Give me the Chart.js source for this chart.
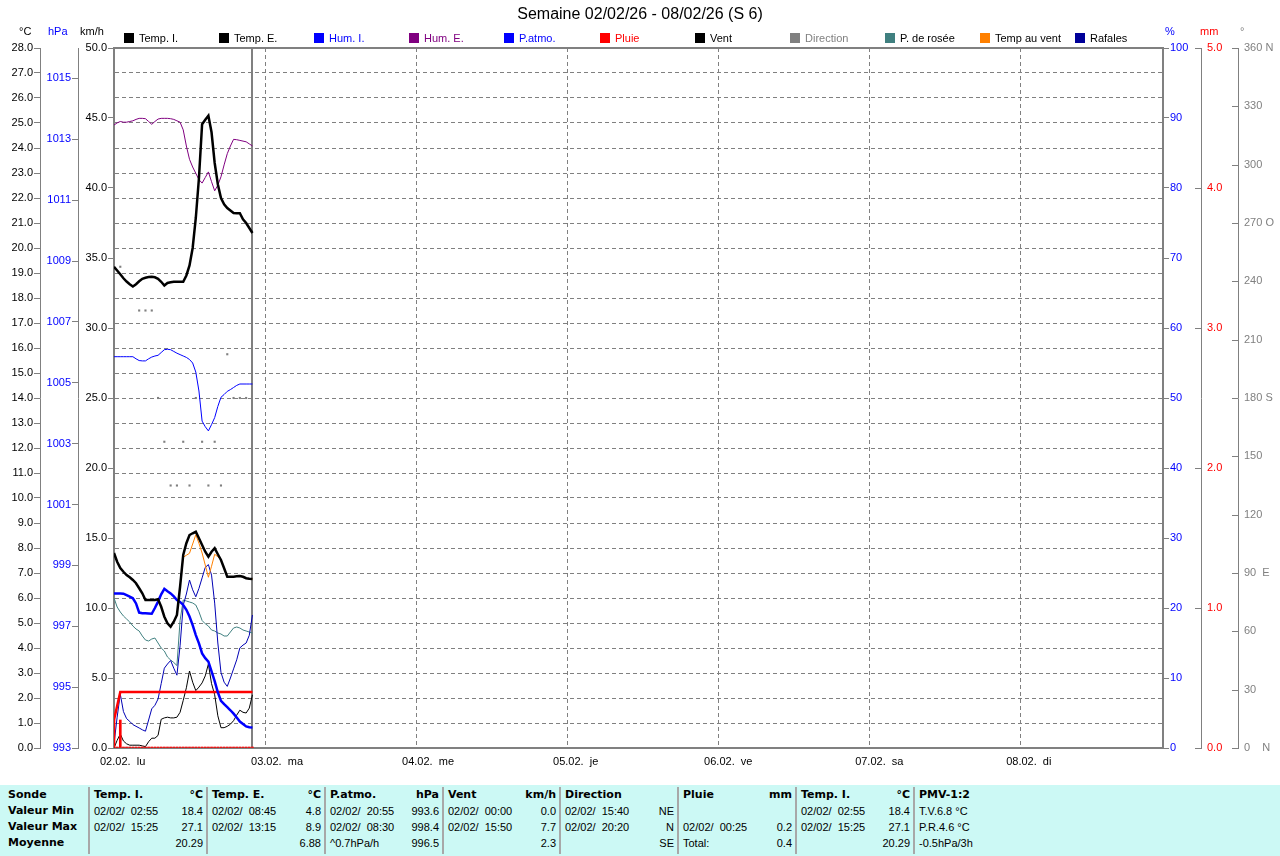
<!DOCTYPE html>
<html>
<head>
<meta charset="utf-8">
<script src="https://cdn.jsdelivr.net/npm/chart.js@4.4.1/dist/chart.umd.min.js"></script>
<style>
html,body{margin:0;padding:0;background:#fff;}
#wrap{position:relative;width:1280px;height:856px;overflow:hidden;background:#fff;}
#c{position:absolute;left:0;top:0;}
#tbl{position:absolute;left:0;top:785px;width:1280px;height:71px;background:#ccf9f5;font-family:"Liberation Sans",Arial,sans-serif;font-size:11px;color:#000;}
.sep{position:absolute;top:2px;width:2px;height:67px;background:#a8a8a8;}
.col{position:absolute;top:0;height:71px;}
.row{position:absolute;left:0;right:0;height:16px;line-height:16px;white-space:pre;}
.l{position:absolute;left:0;top:0;}
.r{position:absolute;right:0;top:0;}
.b{font-family:"DejaVu Sans",sans-serif;font-weight:bold;font-size:11px;}
</style>
</head>
<body>
<div id="wrap">
<canvas id="c" width="1280" height="787"></canvas>
<div id="tbl"></div>
</div>
<script>
// ---------------- DATA ----------------
const hours = [0,0.5,1,1.5,2,2.5,3,3.5,4,4.5,5,5.5,6,6.5,7,7.5,8,8.5,9,9.5,10,10.5,11,11.5,12,12.5,13,13.5,14,14.5,15,15.5,16,16.5,17,17.5,18,18.5,19,19.5,20,20.5,21,21.5,22];

const tempI = [19.25,19.1,18.95,18.79,18.66,18.55,18.46,18.55,18.67,18.77,18.81,18.84,18.85,18.83,18.77,18.65,18.5,18.6,18.63,18.65,18.65,18.65,18.65,18.9,19.3,20.0,21.2,22.8,24.95,25.13,25.29,24.63,23.4,22.55,22.0,21.75,21.6,21.5,21.4,21.39,21.39,21.15,21.0,20.8,20.6];
const tempE = [7.8,7.45,7.2,7.05,6.92,6.83,6.72,6.59,6.39,6.19,5.92,5.92,5.92,5.92,5.95,5.65,5.25,4.99,4.85,5.05,5.32,6.45,7.72,8.19,8.52,8.59,8.65,8.39,8.12,7.85,7.65,7.85,7.99,7.75,7.52,7.19,6.85,6.85,6.85,6.87,6.88,6.85,6.79,6.77,6.76];
const windChill = [7.8,7.45,7.2,7.05,6.92,6.83,6.72,6.59,6.39,6.19,5.92,5.92,5.92,5.92,5.95,5.65,5.25,4.99,4.85,5.05,5.32,6.45,7.63,7.71,7.79,8.16,8.53,8.19,7.8,7.32,6.83,7.27,7.75,7.65,7.52,7.19,6.85,6.85,6.85,6.87,6.88,6.85,6.79,6.77,6.76];
const dewPoint = [6.0,5.64,5.44,5.28,5.16,5.04,4.88,4.76,4.68,4.48,4.32,4.28,4.36,4.4,4.2,4.0,3.88,3.64,3.52,3.42,3.3,5.1,5.92,5.88,5.84,5.8,5.72,5.45,5.1,4.97,4.88,4.72,4.68,4.6,4.56,4.48,4.48,4.64,4.8,4.84,4.8,4.72,4.68,4.64,4.6];
const humI = [55.9,55.9,55.9,55.9,55.9,55.9,55.9,55.6,55.35,55.3,55.3,55.6,55.85,56.0,56.1,56.5,56.9,56.96,56.9,56.65,56.4,56.2,56.0,55.8,55.5,55.0,53.7,51.0,46.7,45.9,45.3,46.2,47.2,48.8,50.1,50.5,50.95,51.2,51.5,51.8,52.0,52.0,52.0,52.0,52.0];
const humE = [89.0,89.3,89.5,89.4,89.4,89.5,89.6,89.8,89.95,89.95,89.9,89.5,89.1,89.5,89.85,89.95,89.95,89.95,89.9,89.8,89.6,89.4,88.3,86.0,84.1,83.0,82.1,81.2,80.7,81.5,82.3,80.9,79.6,80.4,81.6,83.3,84.9,86.0,86.95,86.9,86.8,86.7,86.6,86.3,86.0];
const pressure = [998.08,998.08,998.08,998.07,998.02,997.97,997.92,997.75,997.45,997.43,997.43,997.42,997.41,997.6,997.81,998.05,998.23,998.15,998.08,997.98,997.86,997.8,997.7,997.54,997.32,997.04,996.71,996.44,996.11,995.95,995.84,995.52,995.2,994.83,994.55,994.44,994.34,994.24,994.13,994.0,993.87,993.79,993.71,993.68,993.67];
const wind = [0,0.55,1.0,0.5,0.3,0.2,0.2,0.2,0.2,0.15,0.1,0.45,0.7,0.7,0.9,2.05,2.15,2.2,2.15,2.15,2.2,2.55,3.4,4.3,5.5,4.7,4.1,4.35,4.65,5.15,6.0,4.6,3.8,2.3,1.45,1.45,1.55,1.7,1.95,2.35,2.7,2.55,2.5,2.85,3.8];
const gusts = [0.3,2.2,3.85,2.6,2.1,1.9,1.67,1.55,1.43,1.3,1.2,2.0,2.8,3.05,3.5,4.6,5.7,6.0,6.25,5.7,5.2,7.3,10.2,11.0,12.0,11.3,10.8,11.4,12.15,12.9,13.1,12.35,10.35,7.5,5.4,4.7,4.4,5.0,5.65,6.3,7.15,7.35,7.5,8.05,9.5];
const rain = [0.2,0,0.2,0,0,0,0,0,0,0,0,0,0,0,0,0,0,0,0,0,0,0,0,0,0,0,0,0,0,0,0,0,0,0,0,0,0,0,0,0,0,0,0,0,0];
const rainTotal = [0.2,0.3,0.4,0.4,0.4,0.4,0.4,0.4,0.4,0.4,0.4,0.4,0.4,0.4,0.4,0.4,0.4,0.4,0.4,0.4,0.4,0.4,0.4,0.4,0.4,0.4,0.4,0.4,0.4,0.4,0.4,0.4,0.4,0.4,0.4,0.4,0.4,0.4,0.4,0.4,0.4,0.4,0.4,0.4,0.4];
const dirHours = [1,4,5,6,7,8,9,10,11,12,13,14,15,16,17,18,19,20,21];
const dirDeg = [247.5,225,225,225,180,157.5,135,135,157.5,135,180,157.5,135,157.5,135,202.5,180,180,180];

// ticks / labels
const dayTicks = [0,24,48,72,96,120,144];
const dayLabels = ["02.02.  lu","03.02.  ma","04.02.  me","05.02.  je","06.02.  ve","07.02.  sa","08.02.  di"];
const tempTicks = [0,1,2,3,4,5,6,7,8,9,10,11,12,13,14,15,16,17,18,19,20,21,22,23,24,25,26,27,28];
const hpaTicks = [993,995,997,999,1001,1003,1005,1007,1009,1011,1013,1015];
const windTicks = [0,5,10,15,20,25,30,35,40,45,50];
const humTicks = [0,10,20,30,40,50,60,70,80,90,100];
const rainTicks = [0,1,2,3,4,5];
const dirTicks = [0,30,60,90,120,150,180,210,240,270,300,330,360];
const dirNames = {0:"0    N",90:"90  E",180:"180 S",270:"270 O",360:"360 N"};

const legendLabels = ["Temp. I.","Temp. E.","Hum. I.","Hum. E.","P.atmo.","Pluie","Vent","Direction","P. de rosée","Temp au vent","Rafales"];
const legendBox = ["#000000","#000000","#0000ff","#800080","#0000ff","#ff0000","#000000","#808080","#408080","#ff8000","#000099"];
const legendText = ["#000000","#000000","#0000ff","#800080","#0000ff","#ff0000","#000000","#808080","#000000","#000000","#000000"];
const titleText = "Semaine 02/02/26 - 08/02/26 (S 6)";

// table
const tblRowNames = ["Sonde","Valeur Min","Valeur Max","Moyenne"];
const tblHead = ["Temp. I.","Temp. E.","P.atmo.","Vent","Direction","Pluie","Temp. I.","PMV-1:2"];
const tblUnit = ["°C","°C","hPa","km/h","","mm","°C",""];
const tblMinL = ["02/02/  02:55","02/02/  08:45","02/02/  20:55","02/02/  00:00","02/02/  15:40","","02/02/  02:55","T.V.6.8 °C"];
const tblMinR = ["18.4","4.8","993.6","0.0","NE","","18.4",""];
const tblMaxL = ["02/02/  15:25","02/02/  13:15","02/02/  08:30","02/02/  15:50","02/02/  20:20","02/02/  00:25","02/02/  15:25","P.R.4.6 °C"];
const tblMaxR = ["27.1","8.9","998.4","7.7","N","0.2","27.1",""];
const tblAvgL = ["","","^0.7hPa/h","","","Total:","","-0.5hPa/3h"];
const tblAvgR = ["20.29","6.88","996.5","2.3","SE","0.4","20.29",""];

// ---------------- CHART ----------------
const FONT = '"Liberation Sans", Arial, sans-serif';
const GRAY = '#808080';
const X_MAX = 166.7;
function pts(xs, ys){ return xs.map((x,i)=>({x:x, y:ys[i]})); }
function setTicks(vals){ return s => { s.ticks = vals.map(v=>({value:v})); }; }
function line(label, ys, color, width, axis){
  return {type:'line', label, data:pts(hours, ys), borderColor:color, backgroundColor:color,
    borderWidth:width, pointRadius:0, pointHoverRadius:0, tension:0, fill:false, yAxisID:axis, xAxisID:'x'};
}
const tf = {family:FONT, size:11};

const decor = {
  id:'decor',
  beforeDatasetsDraw(chart){
    const {ctx, chartArea:a, scales} = chart;
    ctx.save();
    ctx.strokeStyle = GRAY; ctx.lineWidth = 2;
    ctx.strokeRect(a.left, a.top, a.right-a.left, a.bottom-a.top);
    const xe = Math.round(scales.x.getPixelForValue(hours[hours.length-1]));
    ctx.beginPath(); ctx.moveTo(xe, a.top); ctx.lineTo(xe, a.bottom); ctx.stroke();
    ctx.restore();
  },
  afterDraw(chart){
    const {ctx, scales} = chart;
    ctx.save();
    ctx.strokeStyle = GRAY; ctx.lineWidth = 1;
    ['yR','yD'].forEach(id => {
      const s = scales[id];
      s.ticks.forEach(t => {
        const y = Math.round(s.getPixelForValue(t.value)) + 0.5;
        ctx.beginPath(); ctx.moveTo(s.left-6, y); ctx.lineTo(s.left, y); ctx.stroke();
      });
    });
    ctx.fillStyle = '#000'; ctx.font = '16px ' + FONT; ctx.textAlign = 'center'; ctx.textBaseline = 'middle';
    ctx.fillText(titleText, 640, 15);
    ctx.font = '11px ' + FONT; ctx.textAlign = 'left';
    const units = [['°C',19,'#000'],['hPa',48,'#0000ff'],['km/h',80,'#000'],['%',1165,'#0000ff'],['mm',1200,'#ff0000'],['°',1240,GRAY]];
    units.forEach(u => { ctx.fillStyle = u[2]; ctx.fillText(u[0], u[1], 32); });
    legendLabels.forEach((lab,i) => {
      const x = Math.round(124 + i*95.1);
      ctx.fillStyle = legendBox[i]; ctx.fillRect(x, 33, 10, 10);
      ctx.fillStyle = legendText[i]; ctx.fillText(lab, x+15, 38.5);
    });
    ctx.restore();
  }
};

new Chart(document.getElementById('c'), {
  type:'line',
  data:{ datasets:[
    line('Temp. E.', tempE, '#000000', 2.5, 'yT'),
    line('Temp. I.', tempI, '#000000', 2.5, 'yT'),
    line('P.atmo.', pressure, '#0000ff', 2.5, 'yP'),
    line('Pluie', rainTotal, '#ff0000', 2.5, 'yR'),
    {type:'bar', label:'Pluie h', data:pts(hours, rain), backgroundColor:'#ff0000', borderWidth:0,
     barThickness:2, minBarLength:1, yAxisID:'yR', xAxisID:'x'},
    line('Vent', wind, '#000000', 1, 'yW'),
    line('Temp au vent', windChill, '#ff8000', 1, 'yT'),
    line('Rafales', gusts, '#0000b4', 1, 'yW'),
    line('Hum. I.', humI, '#0000ff', 1, 'yH'),
    line('Hum. E.', humE, '#800080', 1, 'yH'),
    line('P. de rosée', dewPoint, '#408080', 1, 'yT'),
    {type:'line', label:'Direction', data:pts(dirHours, dirDeg), showLine:false, pointStyle:'rect',
     pointRadius:1.5, pointBorderWidth:0, pointBackgroundColor:GRAY, borderColor:GRAY, yAxisID:'yD', xAxisID:'x'}
  ]},
  options:{
    responsive:false, animation:false, devicePixelRatio:1, events:[],
    layout:{padding:{top:48, left:0, right:0, bottom:19}},
    plugins:{legend:{display:false}, tooltip:{enabled:false}, title:{display:false}},
    scales:{
      x:{type:'linear', position:'bottom', min:0, max:X_MAX, offset:false,
        afterBuildTicks:setTicks(dayTicks), afterFit:s=>{s.height=20;},
        grid:{offset:false, color:GRAY, lineWidth:1, drawTicks:false, drawOnChartArea:true, tickBorderDash:[]},
        border:{display:false, dash:[4,3]},
        ticks:{callback:(v,i)=>dayLabels[i], align:'start', labelOffset:-14, padding:7, maxRotation:0, minRotation:0, autoSkip:false, color:'#000', font:tf}},
      yT:{type:'linear', position:'left', weight:3, min:0, max:28,
        afterBuildTicks:setTicks(tempTicks), afterFit:s=>{s.width=40;},
        grid:{color:GRAY, lineWidth:1, drawOnChartArea:true, drawTicks:true, tickLength:6, tickColor:GRAY, tickBorderDash:[]},
        border:{display:true, color:GRAY, width:1, dash:[4,3]},
        ticks:{padding:1, color:'#000', font:tf, autoSkip:false, callback:v=>Number(v).toFixed(1)}},
      yP:{type:'linear', position:'left', weight:2, min:993, max:1016,
        afterBuildTicks:setTicks(hpaTicks), afterFit:s=>{s.width=38;},
        grid:{color:GRAY, drawOnChartArea:false, drawTicks:true, tickLength:6, tickColor:GRAY},
        border:{display:true, color:GRAY, width:1},
        ticks:{padding:1, color:'#0000ff', font:tf, autoSkip:false, callback:v=>String(v)}},
      yW:{type:'linear', position:'left', weight:1, min:0, max:50,
        afterBuildTicks:setTicks(windTicks), afterFit:s=>{s.width=36;},
        grid:{color:GRAY, drawOnChartArea:false, drawTicks:true, tickLength:6, tickColor:GRAY},
        border:{display:false},
        ticks:{padding:1, color:'#000', font:tf, autoSkip:false, callback:v=>Number(v).toFixed(1)}},
      yH:{type:'linear', position:'right', weight:1, min:0, max:100,
        afterBuildTicks:setTicks(humTicks), afterFit:s=>{s.width=38;},
        grid:{color:GRAY, drawOnChartArea:false, drawTicks:true, tickLength:6, tickColor:GRAY},
        border:{display:false},
        ticks:{padding:1, color:'#0000ff', font:tf, autoSkip:false, callback:v=>String(v)}},
      yR:{type:'linear', position:'right', weight:2, min:0, max:5,
        afterBuildTicks:setTicks(rainTicks), afterFit:s=>{s.width=37;},
        grid:{drawOnChartArea:false, drawTicks:false},
        border:{display:true, color:GRAY, width:1},
        ticks:{padding:6, color:'#ff0000', font:tf, autoSkip:false, callback:v=>Number(v).toFixed(1)}},
      yD:{type:'linear', position:'right', weight:3, min:0, max:360,
        afterBuildTicks:setTicks(dirTicks), afterFit:s=>{s.width=42;},
        grid:{drawOnChartArea:false, drawTicks:false},
        border:{display:true, color:GRAY, width:1},
        ticks:{padding:6, color:GRAY, font:tf, autoSkip:false, callback:v=>(dirNames[v]!==undefined?dirNames[v]:String(v))}}
    }
  },
  plugins:[decor]
});

// ---------------- TABLE ----------------
(function(){
  const tbl = document.getElementById('tbl');
  const seps = [89,207,325,443,560,678,796,914];
  const rowTop = [2,18,34,50];
  seps.forEach(x => { const d=document.createElement('div'); d.className='sep'; d.style.left=(x-1)+'px'; tbl.appendChild(d); });
  function cell(parent, top, lt, rt, boldL, boldR){
    const r = document.createElement('div'); r.className='row'; r.style.top=top+'px';
    if (lt){ const s=document.createElement('span'); s.className='l'+(boldL?' b':''); s.textContent=lt; r.appendChild(s); }
    if (rt){ const s=document.createElement('span'); s.className='r'+(boldR?' b':''); s.textContent=rt; r.appendChild(s); }
    parent.appendChild(r);
  }
  const c0 = document.createElement('div'); c0.className='col'; c0.style.left='8px'; c0.style.width='78px'; tbl.appendChild(c0);
  tblRowNames.forEach((n,i)=>cell(c0,rowTop[i],n,'',true,false));
  tblHead.forEach((h,i)=>{
    const left = seps[i]+5, right = (i+1<seps.length? seps[i+1]-4 : 1275);
    const c = document.createElement('div'); c.className='col'; c.style.left=left+'px'; c.style.width=(right-left)+'px'; tbl.appendChild(c);
    cell(c,rowTop[0],h,tblUnit[i],true,true);
    cell(c,rowTop[1],tblMinL[i],tblMinR[i],false,false);
    cell(c,rowTop[2],tblMaxL[i],tblMaxR[i],false,false);
    cell(c,rowTop[3],tblAvgL[i],tblAvgR[i],false,false);
  });
})();
</script>
</body>
</html>
